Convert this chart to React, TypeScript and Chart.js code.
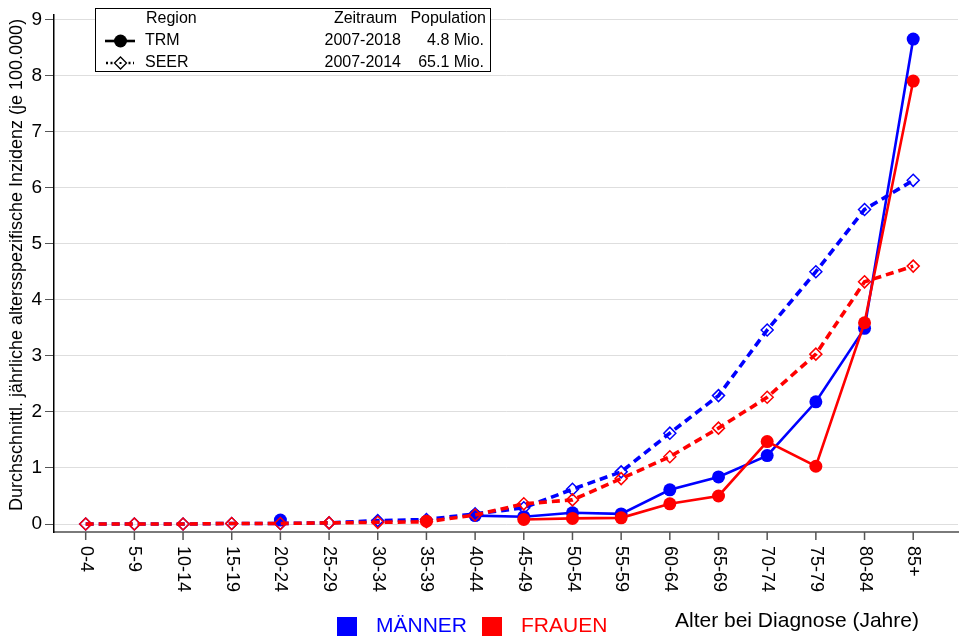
import React, { useEffect, useRef } from "react";
import { Chart, registerables } from "chart.js";

Chart.register(...registerables);

// Age groups at diagnosis
const ageGroups = [
  "0-4", "5-9", "10-14", "15-19", "20-24", "25-29", "30-34", "35-39", "40-44",
  "45-49", "50-54", "55-59", "60-64", "65-69", "70-74", "75-79", "80-84", "85+",
];

const yTicks = [0, 1, 2, 3, 4, 5, 6, 7, 8, 9];

// Average annual age-specific incidence per 100,000
const trmMaenner = [null, null, null, null, 0.07, null, null, null, 0.15, 0.13, 0.2, 0.18, 0.61, 0.84, 1.22, 2.18, 3.49, 8.65];
const trmFrauen = [null, null, null, null, null, null, null, 0.05, null, 0.08, 0.1, 0.11, 0.36, 0.5, 1.47, 1.03, 3.59, 7.9];
const seerMaenner = [0.0, 0.0, 0.0, 0.01, 0.01, 0.02, 0.06, 0.08, 0.18, 0.29, 0.62, 0.93, 1.62, 2.29, 3.46, 4.5, 5.61, 6.13];
const seerFrauen = [0.0, 0.0, 0.0, 0.01, 0.01, 0.02, 0.03, 0.04, 0.16, 0.36, 0.43, 0.81, 1.2, 1.71, 2.26, 3.03, 4.32, 4.6];

// Legend table rows
const legendHeader = ["Region", "Zeitraum", "Population"];
const legendRows = [
  ["TRM", "2007-2018", "4.8 Mio."],
  ["SEER", "2007-2014", "65.1 Mio."],
];
const sexLabels = ["MÄNNER", "FRAUEN"];
const xTitle = "Alter bei Diagnose (Jahre)";
const yTitle = "Durchschnittl. jährliche altersspezifische Inzidenz (je 100.000)";

const BLUE = "#0000ff";
const RED = "#ff0000";
const FONT = "Arial, 'Liberation Sans', sans-serif";

const toPoints = (arr: (number | null)[]) => arr.map((v, i) => ({ x: i, y: v }));

const trmStyle = (color: string, order: number) => ({
  borderColor: color,
  backgroundColor: color,
  borderWidth: 2.6,
  pointStyle: "circle",
  pointRadius: 6.5,
  pointBackgroundColor: color,
  pointBorderColor: color,
  pointBorderWidth: 0,
  spanGaps: false,
  order,
});

const seerStyle = (color: string, order: number) => ({
  borderColor: color,
  backgroundColor: color,
  borderWidth: 3.6,
  borderDash: [8, 5],
  pointStyle: "rectRot",
  pointRadius: 6,
  pointBackgroundColor: "rgba(255,255,255,0)",
  pointBorderColor: color,
  pointBorderWidth: 1.5,
  order,
});

const overlayPlugin = {
  id: "overlay",
  afterDraw(chart: any) {
    const ctx = chart.ctx as CanvasRenderingContext2D;
    const xs = chart.scales.x;
    const area = chart.chartArea;
    ctx.save();

    // x tick marks and rotated category labels
    ctx.strokeStyle = "#555";
    ctx.lineWidth = 1.5;
    ctx.fillStyle = "#000";
    ctx.font = `18px ${FONT}`;
    ageGroups.forEach((label, i) => {
      const px = xs.getPixelForValue(i);
      ctx.beginPath();
      ctx.moveTo(px, area.bottom);
      ctx.lineTo(px, area.bottom + 8);
      ctx.stroke();
      ctx.save();
      ctx.translate(px, area.bottom + 14);
      ctx.rotate(Math.PI / 2);
      ctx.textAlign = "left";
      ctx.textBaseline = "middle";
      ctx.fillText(label, 0, 0);
      ctx.restore();
    });

    // y axis title
    ctx.save();
    ctx.translate(17, 265);
    ctx.rotate(-Math.PI / 2);
    ctx.font = `18px ${FONT}`;
    ctx.textAlign = "center";
    ctx.textBaseline = "middle";
    ctx.fillText(yTitle, 0, 0);
    ctx.restore();

    // legend table
    const bx = 95, by = 8, bw = 395, bh = 63;
    ctx.fillStyle = "#fff";
    ctx.fillRect(bx, by, bw, bh);
    ctx.strokeStyle = "#000";
    ctx.lineWidth = 1;
    ctx.strokeRect(bx + 0.5, by + 0.5, bw, bh);
    ctx.fillStyle = "#000";
    ctx.font = `16px ${FONT}`;
    ctx.textBaseline = "middle";
    const rowY = [19, 41, 63];
    ctx.textAlign = "left";
    ctx.fillText(legendHeader[0], 146, rowY[0]);
    ctx.textAlign = "right";
    ctx.fillText(legendHeader[1], 397, rowY[0]);
    ctx.fillText(legendHeader[2], 486, rowY[0]);
    legendRows.forEach((row, r) => {
      const y = rowY[r + 1];
      ctx.textAlign = "left";
      ctx.fillText(row[0], 145, y);
      ctx.textAlign = "right";
      ctx.fillText(row[1], 401, y);
      ctx.fillText(row[2], 484, y);
    });
    // TRM marker: solid line with filled dot
    ctx.strokeStyle = "#000";
    ctx.lineWidth = 2.6;
    ctx.setLineDash([]);
    ctx.beginPath();
    ctx.moveTo(105, rowY[1]);
    ctx.lineTo(135, rowY[1]);
    ctx.stroke();
    ctx.beginPath();
    ctx.arc(120.5, rowY[1], 6.5, 0, Math.PI * 2);
    ctx.fill();
    // SEER marker: dotted line with hollow diamond
    ctx.lineWidth = 2.4;
    ctx.setLineDash([2, 2.5]);
    ctx.beginPath();
    ctx.moveTo(106, rowY[2]);
    ctx.lineTo(134, rowY[2]);
    ctx.stroke();
    ctx.setLineDash([]);
    ctx.fillStyle = "#fff";
    ctx.lineWidth = 1.3;
    ctx.beginPath();
    ctx.moveTo(120.5, rowY[2] - 6);
    ctx.lineTo(126.5, rowY[2]);
    ctx.lineTo(120.5, rowY[2] + 6);
    ctx.lineTo(114.5, rowY[2]);
    ctx.closePath();
    ctx.fill();
    ctx.stroke();
    ctx.fillStyle = "#000";
    ctx.fillRect(119.5, rowY[2] - 1, 2, 2);

    // bottom legend and x title
    ctx.font = `21px ${FONT}`;
    ctx.textAlign = "left";
    ctx.textBaseline = "middle";
    ctx.fillStyle = BLUE;
    ctx.fillRect(337, 617, 20, 19);
    ctx.fillText(sexLabels[0], 376, 626);
    ctx.fillStyle = RED;
    ctx.fillRect(482, 617, 20, 19);
    ctx.fillText(sexLabels[1], 521, 626);
    ctx.fillStyle = "#000";
    ctx.fillText(xTitle, 675, 621);

    ctx.restore();
  },
};

export default function App() {
  const canvasRef = useRef<HTMLCanvasElement | null>(null);

  useEffect(() => {
    if (!canvasRef.current) return;
    const chart = new Chart(canvasRef.current, {
      type: "line",
      data: {
        datasets: [
          { label: "SEER Frauen", data: toPoints(seerFrauen), ...seerStyle(RED, 1) },
          { label: "TRM Frauen", data: toPoints(trmFrauen), ...trmStyle(RED, 2) },
          { label: "SEER Männer", data: toPoints(seerMaenner), ...seerStyle(BLUE, 3) },
          { label: "TRM Männer", data: toPoints(trmMaenner), ...trmStyle(BLUE, 4) },
        ] as any,
      },
      options: {
        animation: false,
        responsive: false,
        devicePixelRatio: 1,
        layout: { autoPadding: false, padding: { top: 14, right: 2, left: 0, bottom: 0 } },
        plugins: { legend: { display: false }, tooltip: { enabled: false } },
        scales: {
          x: {
            type: "linear",
            min: -0.651,
            max: 17.92,
            afterBuildTicks: (s: any) => {
              s.ticks = ageGroups.map((_, i) => ({ value: i }));
            },
            afterFit: (s: any) => {
              s.height = 107;
            },
            ticks: { display: false },
            grid: { display: false },
            border: { display: true, color: "#7a7a7a", width: 2 },
          },
          y: {
            type: "linear",
            min: -0.1426,
            max: 9.09,
            afterBuildTicks: (s: any) => {
              s.ticks = yTicks.map((v) => ({ value: v }));
            },
            afterFit: (s: any) => {
              s.width = 54;
            },
            ticks: {
              font: { size: 19, family: FONT },
              color: "#000",
              padding: 3,
            },
            grid: {
              color: "#dedede",
              lineWidth: 1,
              drawTicks: true,
              tickLength: 9,
              tickColor: "#555",
            },
            border: { display: true, color: "#000", width: 1.5 },
          },
        },
      } as any,
      plugins: [overlayPlugin],
    });
    return () => chart.destroy();
  }, []);

  return (
    <div style={{ position: "absolute", left: 0, top: 0, width: 960, height: 639, background: "#fff" }}>
      <canvas ref={canvasRef} width={960} height={639} style={{ display: "block" }} />
    </div>
  );
}
